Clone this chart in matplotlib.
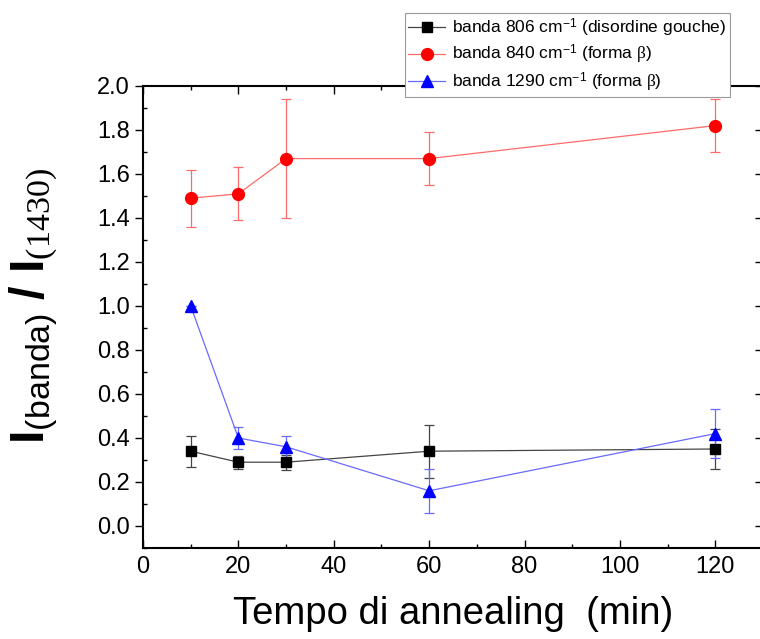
import matplotlib
matplotlib.use("Agg")
import matplotlib.pyplot as plt
from matplotlib.ticker import MultipleLocator
from matplotlib.lines import Line2D

plt.rcParams['font.family'] = ['Liberation Sans', 'DejaVu Sans']
plt.rcParams['mathtext.fontset'] = 'custom'
plt.rcParams['mathtext.rm'] = 'Liberation Sans'
plt.rcParams['mathtext.it'] = 'Liberation Serif'
plt.rcParams['mathtext.cal'] = 'Liberation Serif'
plt.rcParams['mathtext.bf'] = 'Liberation Sans:bold'
plt.rcParams['mathtext.sf'] = 'Liberation Sans'

# Data
time_min = [10, 20, 30, 60, 120]
band806 = [0.34, 0.29, 0.29, 0.34, 0.35]
band806_err = [0.07, 0.03, 0.035, 0.12, 0.09]
band840 = [1.49, 1.51, 1.67, 1.67, 1.82]
band840_err = [0.13, 0.12, 0.27, 0.12, 0.12]
band1290 = [1.00, 0.40, 0.36, 0.16, 0.42]
band1290_err = [0.0, 0.05, 0.05, 0.10, 0.11]

labels = [r'banda 806 cm$^{-1}$ (disordine gouche)',
          r'banda 840 cm$^{-1}$ (forma $\mathcal{\beta}$)',
          r'banda 1290 cm$^{-1}$ (forma $\mathcal{\beta}$)']

W, H = 760, 639
fig = plt.figure(figsize=(W / 100, H / 100), dpi=100)
ax = fig.add_axes([143 / W, (H - 548) / H, (763 - 143) / W, (548 - 86) / H])

series = [
    (band806, band806_err, 's', 'black', '#444444', 6.8),
    (band840, band840_err, 'o', 'red', '#ff6a6a', 8.5),
    (band1290, band1290_err, '^', 'blue', '#6a6aff', 9.0),
]
handles = []
for (vals, errs, mk, mc, lc, ms), lab in zip(series, labels):
    ax.errorbar(time_min, vals, yerr=errs, fmt='-', marker=mk, ms=ms,
                color=lc, mfc=mc, mec=mc, lw=0.9, elinewidth=0.9,
                capsize=3.3, capthick=0.9)
    handles.append(Line2D([], [], color=lc, lw=0.9, marker=mk, ms=ms,
                          mfc=mc, mec=mc))

ax.set_xlim(0, 130)
ax.set_ylim(-0.1, 2.0)
ax.xaxis.set_major_locator(MultipleLocator(20))
ax.xaxis.set_minor_locator(MultipleLocator(10))
ax.yaxis.set_major_locator(MultipleLocator(0.2))
ax.yaxis.set_minor_locator(MultipleLocator(0.1))
ax.yaxis.set_major_formatter(matplotlib.ticker.FormatStrFormatter('%.1f'))

for sp in ax.spines.values():
    sp.set_linewidth(1.5)

ax.tick_params(axis='x', which='both', direction='in', top=True, bottom=True,
               labelsize=17, pad=6, width=1.0)
ax.tick_params(axis='x', which='major', length=6)
ax.tick_params(axis='x', which='minor', length=3)
ax.tick_params(axis='y', which='major', direction='out', length=6, width=1.0,
               labelsize=17, pad=3.5, right=False)
ax.tick_params(axis='y', which='minor', direction='in', length=3, width=1.0,
               right=False)

sec = ax.secondary_yaxis('right')
sec.yaxis.set_major_locator(MultipleLocator(0.2))
sec.tick_params(axis='y', which='major', direction='in', length=6, width=1.0,
                labelright=False)
sec.spines['right'].set_linewidth(1.5)

ax.set_xlabel('Tempo di annealing  (min)', fontsize=27.5, labelpad=13)

fig.text(34 / W, 1 - 306 / H,
         r'$\mathbf{I}_{\mathrm{(banda)}}\ \mathbf{/}\ \mathbf{I}_{\mathcal{(1430)}}$',
         rotation=90, ha='center', va='center', fontsize=35)

leg = fig.legend(handles=handles, labels=labels, loc='upper left',
                 bbox_to_anchor=(405 / W, 1 - 13 / H), bbox_transform=fig.transFigure,
                 borderaxespad=0, fancybox=False, framealpha=1, edgecolor='#999999',
                 fontsize=12.5, handlelength=2.1, handletextpad=0.4,
                 borderpad=0.2, labelspacing=0.25)
leg.get_frame().set_linewidth(0.8)
leg.set_zorder(10)

fig.savefig('out.png', dpi=100)
